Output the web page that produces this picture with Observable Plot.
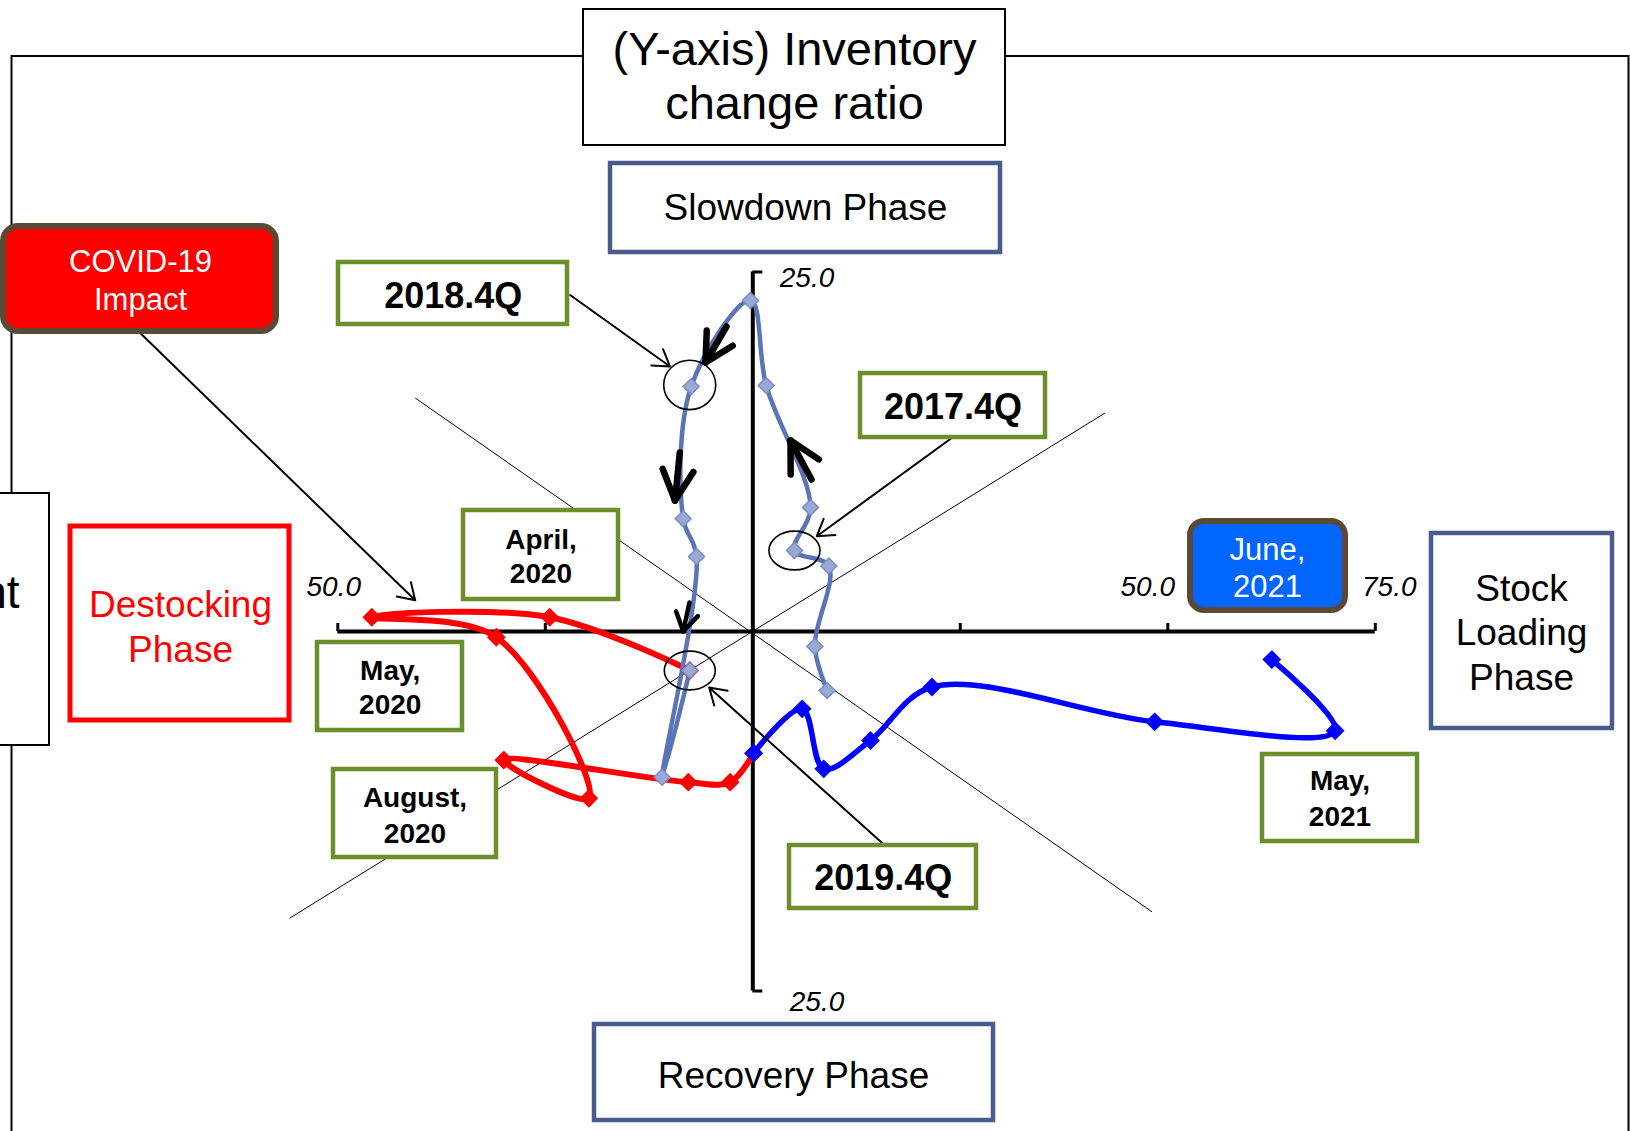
<!DOCTYPE html>
<html><head><meta charset="utf-8">
<script src="https://cdn.jsdelivr.net/npm/d3@7"></script>
<script src="https://cdn.jsdelivr.net/npm/@observablehq/plot@0.6"></script>
<style>html,body{margin:0;padding:0;background:#fff;overflow:hidden;} #chart svg{display:block;max-width:none;}</style>
</head><body><div id="chart"></div>
<script>
// ---------------- DATA ----------------
// Quarterly cycle 2017.1Q – 2019.4Q (x: shipment change ratio, y: inventory change ratio)
const cycleQuarterX = [8.96, 7.47, 9.16, 5.02, 6.95, 1.61, -0.28, -7.42, -8.39, -6.78, -10.92, -7.59];
const cycleQuarterY = [-4.10, -1.04, 4.55, 5.63, 8.62, 17.11, 23.02, 17.04, 7.84, 5.22, -10.13, -2.71];
const cycleQuarterNames = ["2017.1Q","2017.2Q","2017.3Q","2017.4Q","2018.1Q","2018.2Q","2018.3Q","2018.4Q","2019.1Q","2019.2Q","2019.3Q","2019.4Q"];
// Monthly 2020 (COVID-19 impact)
const cycle2020X = [-7.59, -24.47, -45.9, -30.9, -19.75, -30.0, -7.77, -2.73, 0.10];
const cycle2020Y = [-2.71, 0.99, 0.99, -0.40, -11.60, -8.94, -10.48, -10.48, -8.46];
// Monthly recovery to June 2021
const cycle2021X = [0.10, 5.95, 8.55, 14.18, 21.59, 48.41, 70.16, 62.53];
const cycle2021Y = [-8.46, -5.38, -9.55, -7.58, -3.86, -6.28, -6.90, -1.95];
// Axis ticks
const xTickValues = [-50, -25, 25, 50, 75];
const xTickLabelValues = [-50, 50, 75];
const xTickLabels = ["50.0", "50.0", "75.0"];
const yTickValues = [25, -25];
const yTickLabels = ["25.0", "25.0"];
// Circled quarters (indices into the quarterly cycle)
const circledQuarters = [7, 3, 11];

// ---------------- LAYOUT (pixels, converted through the scales) ----------------
const W = 1630, H = 1131;
const P = {x0: 752.3, kx: 8.3, y0: 631, ky: 14.38};
const ix = px => (px - P.x0) / P.kx;
const iy = py => (P.y0 - py) / P.ky;
const FONT = "'Liberation Sans', Arial, Helvetica, sans-serif";

const C = {
  lightLine: "#5B74B8", lightFill: "#98A9D6", lightEdge: "#7A8EC6",
  red: "#FF0000", blue: "#0000FF", slate: "#4A5B8D", green: "#6B8F2B",
  brown: "#5C4935", juneFill: "#0066FF"
};

const quarter = cycleQuarterX.map((x, i) => ({x, y: cycleQuarterY[i], name: cycleQuarterNames[i]}));
const y2020 = cycle2020X.map((x, i) => ({x, y: cycle2020Y[i]}));
const y2021 = cycle2021X.map((x, i) => ({x, y: cycle2021Y[i]}));

const marks = [];
const box = (b, style) => Plot.rect([b], {x1: d => ix(d.x1), x2: d => ix(d.x2), y1: d => iy(d.y1), y2: d => iy(d.y2), ...style});
const label = (l, style) => Plot.text([l], {
  x: d => ix(d.cx), y: d => iy(d.base), text: d => d.lines.join("\n"),
  lineAnchor: "bottom", textAnchor: "middle", lineHeight: l.lh / style.fontSize,
  fontFamily: FONT, fill: "#000", ...style
});
const seg = (list, style) => Plot.link(list, {x1: d => ix(d[0]), y1: d => iy(d[1]), x2: d => ix(d[2]), y2: d => iy(d[3]), ...style});

// outer frame
marks.push(box({x1: 11.5, x2: 1628.5, y1: 56, y2: 1137}, {fill: "none", stroke: "#000", strokeWidth: 2}));

// diagonal guide lines through the origin
marks.push(seg([[414.7, 397.5, 1151.5, 911.3], [289.2, 917.7, 1104.5, 412.5]], {stroke: "#000", strokeWidth: 1}));

// axes
marks.push(Plot.ruleY([0], {x1: -50, x2: 75, stroke: "#000", strokeWidth: 4}));
marks.push(Plot.ruleX([0], {y1: -25, y2: 25, stroke: "#000", strokeWidth: 4}));
marks.push(Plot.ruleX(xTickValues, {x: d => d, y1: 0, y2: 8 / P.ky, stroke: "#000", strokeWidth: 3}));
marks.push(Plot.ruleY(yTickValues, {y: d => d, x1: 0, x2: 10 / P.kx, stroke: "#000", strokeWidth: 3}));
const xLabDx = [-4, -20, 14];
xTickLabelValues.forEach((v, i) => {
  marks.push(Plot.text([v], {x: d => d, y: 0, text: () => xTickLabels[i], dx: xLabDx[i], dy: -36, lineAnchor: "bottom",
    fontSize: 28, fontStyle: "italic", fontFamily: FONT, fill: "#000"}));
});
marks.push(Plot.text([yTickValues[0]], {x: 0, y: d => d, text: () => yTickLabels[0], textAnchor: "start", dx: 27, dy: 15, lineAnchor: "bottom", fontSize: 28, fontStyle: "italic", fontFamily: FONT, fill: "#000"}));
marks.push(Plot.text([yTickValues[1]], {x: 0, y: d => d, text: () => yTickLabels[1], textAnchor: "start", dx: 37, dy: 20, lineAnchor: "bottom", fontSize: 28, fontStyle: "italic", fontFamily: FONT, fill: "#000"}));

// series lines
marks.push(Plot.line(y2020, {x: "x", y: "y", curve: "catmull-rom", stroke: C.red, strokeWidth: 6}));
marks.push(Plot.line(y2021, {x: "x", y: "y", curve: "catmull-rom", stroke: C.blue, strokeWidth: 5.5}));
marks.push(Plot.line(quarter, {x: "x", y: "y", curve: "catmull-rom", stroke: C.lightLine, strokeWidth: 4.5}));
// markers
marks.push(Plot.dot(y2020, {x: "x", y: "y", symbol: "diamond2", r: 7.2, fill: C.red, stroke: C.red, strokeWidth: 2}));
marks.push(Plot.dot(y2021, {x: "x", y: "y", symbol: "diamond2", r: 7.2, fill: C.blue, stroke: C.blue, strokeWidth: 2}));
marks.push(Plot.dot(quarter, {x: "x", y: "y", symbol: "diamond2", r: 7.2, fill: C.lightFill, stroke: C.lightEdge, strokeWidth: 1.5}));

// ellipse symbols around circled quarters
const ellipseSymbol = k => ({draw(ctx, size) {
  const rx = Math.sqrt(size / Math.PI), ry = rx * k, m = 0.5523;
  ctx.moveTo(rx, 0);
  ctx.bezierCurveTo(rx, m * ry, m * rx, ry, 0, ry);
  ctx.bezierCurveTo(-m * rx, ry, -rx, m * ry, -rx, 0);
  ctx.bezierCurveTo(-rx, -m * ry, -m * rx, -ry, 0, -ry);
  ctx.bezierCurveTo(m * rx, -ry, rx, -m * ry, rx, 0);
  ctx.closePath();
}});
marks.push(Plot.dot([quarter[circledQuarters[0]]], {x: "x", y: "y", dx: -1.5, dy: -1.5, r: 26, symbol: ellipseSymbol(0.95), fill: "none", stroke: "#000", strokeWidth: 1.6}));
marks.push(Plot.dot([quarter[circledQuarters[1]], quarter[circledQuarters[2]]], {x: "x", y: "y", r: 25.5, symbol: ellipseSymbol(0.76), fill: "none", stroke: "#000", strokeWidth: 1.6}));

// bold direction arrows
function chevron(tail, tip, arm, angDeg) {
  const dx = tail[0] - tip[0], dy = tail[1] - tip[1], L = Math.hypot(dx, dy), ux = dx / L, uy = dy / L;
  const a = angDeg * Math.PI / 180;
  const r = s => [tip[0] + arm * (ux * Math.cos(s * a) - uy * Math.sin(s * a)), tip[1] + arm * (ux * Math.sin(s * a) + uy * Math.cos(s * a))];
  const p = r(1), q = r(-1);
  return [[tail[0], tail[1], tip[0], tip[1]], [p[0], p[1], tip[0], tip[1]], [q[0], q[1], tip[0], tip[1]]];
}
marks.push(seg([...chevron([726, 326], [705, 362], 32, 28), ...chevron([679.3, 452], [674.5, 500], 34, 27), ...chevron([811, 479], [790, 440], 34, 28)],
  {stroke: "#000", strokeWidth: 6.5, strokeLinecap: "round"}));
marks.push(seg(chevron([689, 602], [682.7, 630.7], 21, 32), {stroke: "#000", strokeWidth: 4.5, strokeLinecap: "round"}));

// callout arrows
const callouts = [[569.6, 294.5, 669.5, 366], [140.2, 333, 414.7, 599.8], [951.2, 437.5, 816.3, 535.7], [882.2, 842.9, 708.7, 687.1]];
marks.push(Plot.arrow(callouts, {x1: d => ix(d[0]), y1: d => iy(d[1]), x2: d => ix(d[2]), y2: d => iy(d[3]), stroke: "#000", strokeWidth: 2, headLength: 14, headAngle: 65}));

// boxes
const whiteBlack = {fill: "#fff", stroke: "#000", strokeWidth: 2};
const slateBox = {fill: "#fff", stroke: C.slate, strokeWidth: 4.5};
const greenBox = {fill: "#fff", stroke: C.green, strokeWidth: 4.5};
marks.push(box({x1: 583, x2: 1005, y1: 9, y2: 145}, whiteBlack));
marks.push(box({x1: -10, x2: 49, y1: 493, y2: 745}, whiteBlack));
marks.push(box({x1: 610, x2: 1000, y1: 163, y2: 252}, slateBox));
marks.push(box({x1: 594, x2: 993, y1: 1024, y2: 1120}, slateBox));
marks.push(box({x1: 1431, x2: 1612, y1: 533, y2: 728}, slateBox));
marks.push(box({x1: 70, x2: 289, y1: 526, y2: 720}, {fill: "#fff", stroke: C.red, strokeWidth: 5}));
marks.push(box({x1: 3, x2: 276, y1: 226, y2: 331}, {fill: C.red, stroke: C.brown, strokeWidth: 6, rx: 15}));
marks.push(box({x1: 1190, x2: 1345, y1: 521, y2: 610}, {fill: C.juneFill, stroke: C.brown, strokeWidth: 6, rx: 14}));
for (const b of [
  {x1: 338, x2: 567, y1: 262, y2: 324}, {x1: 860, x2: 1045, y1: 373, y2: 437},
  {x1: 463, x2: 618, y1: 510, y2: 599}, {x1: 317, x2: 462, y1: 642, y2: 730},
  {x1: 333, x2: 496, y1: 769, y2: 857}, {x1: 789, x2: 976, y1: 845, y2: 908},
  {x1: 1262, x2: 1417, y1: 754, y2: 841}
]) marks.push(box(b, greenBox));

// texts
marks.push(label({cx: 794, base: 118, lh: 53.6, lines: ["(Y-axis) Inventory", "change ratio"]}, {fontSize: 47}));
// x-axis title box runs off the left edge of the picture (only its end is visible)
marks.push(label({cx: 19, base: 607, lh: 54, lines: ["(X-axis) Shipment"]}, {fontSize: 46, textAnchor: "end"}));
marks.push(label({cx: -46, base: 661, lh: 54, lines: ["change ratio"]}, {fontSize: 46, textAnchor: "end"}));
marks.push(label({cx: 805, base: 219.6, lh: 44, lines: ["Slowdown Phase"]}, {fontSize: 37}));
marks.push(label({cx: 793, base: 1087.5, lh: 44, lines: ["Recovery Phase"]}, {fontSize: 37}));
marks.push(label({cx: 1521, base: 689, lh: 44.5, lines: ["Stock", "Loading", "Phase"]}, {fontSize: 37}));
marks.push(label({cx: 180, base: 661, lh: 45, lines: ["Destocking", "Phase"]}, {fontSize: 37, fill: C.red}));
marks.push(label({cx: 140, base: 309, lh: 37.6, lines: ["COVID-19", "Impact"]}, {fontSize: 31, fill: "#fff"}));
marks.push(label({cx: 1267, base: 596.6, lh: 37, lines: ["June,", "2021"]}, {fontSize: 31, fill: "#fff"}));
marks.push(label({cx: 452.7, base: 307, lh: 40, lines: ["2018.4Q"]}, {fontSize: 36, fontWeight: "bold"}));
marks.push(label({cx: 952.5, base: 418.6, lh: 40, lines: ["2017.4Q"]}, {fontSize: 36, fontWeight: "bold"}));
marks.push(label({cx: 882.7, base: 889.5, lh: 40, lines: ["2019.4Q"]}, {fontSize: 36, fontWeight: "bold"}));
marks.push(label({cx: 540.5, base: 582.5, lh: 34, lines: ["April,", "2020"]}, {fontSize: 28, fontWeight: "bold"}));
marks.push(label({cx: 389.7, base: 713.3, lh: 34.3, lines: ["May,", "2020"]}, {fontSize: 28, fontWeight: "bold"}));
marks.push(label({cx: 414.5, base: 842, lh: 36, lines: ["August,", "2020"]}, {fontSize: 28, fontWeight: "bold"}));
marks.push(label({cx: 1339.5, base: 825, lh: 35.3, lines: ["May,", "2021"]}, {fontSize: 28, fontWeight: "bold"}));

const chart = Plot.plot({
  width: W, height: H,
  marginTop: 0, marginRight: 0, marginBottom: 0, marginLeft: 0,
  x: {domain: [ix(0), ix(W)], axis: null},
  y: {domain: [iy(H), iy(0)], axis: null},
  style: {background: "#fff", fontFamily: FONT, overflow: "hidden"},
  marks
});
document.getElementById("chart").appendChild(chart);
</script>
</body></html>
